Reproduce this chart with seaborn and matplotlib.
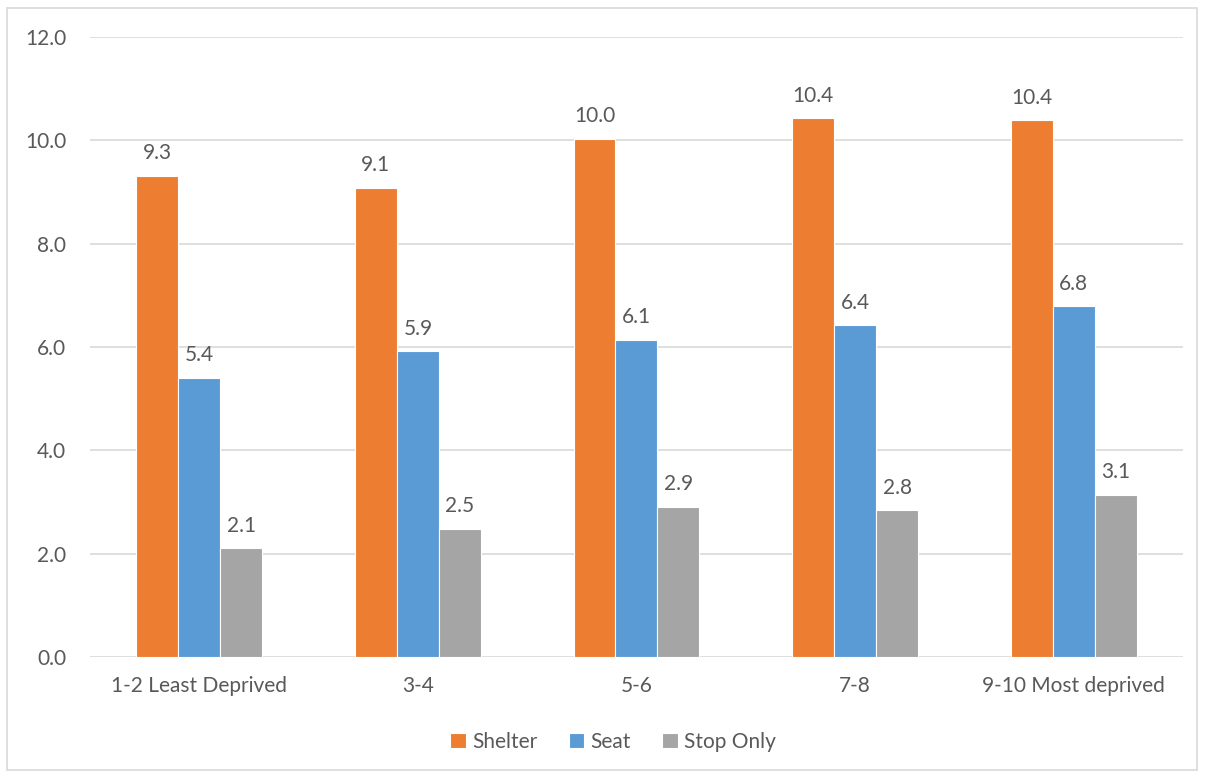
import matplotlib
matplotlib.use("Agg")
import matplotlib.pyplot as plt
from matplotlib.patches import Rectangle
import seaborn as sns
import pandas as pd

categories = ["1-2 Least Deprived", "3-4", "5-6", "7-8", "9-10 Most deprived"]
shelter = [9.31, 9.08, 10.03, 10.43, 10.39]
seat = [5.40, 5.92, 6.14, 6.42, 6.79]
stop_only = [2.10, 2.48, 2.91, 2.84, 3.14]
series_names = ["Shelter", "Seat", "Stop Only"]
colors = ["#ED7D31", "#5B9BD5", "#A5A5A5"]
yticks = [0, 2, 4, 6, 8, 10, 12]

rows = []
for name, vals in zip(series_names, [shelter, seat, stop_only]):
    for cat, v in zip(categories, vals):
        rows.append({"Band": cat, "Type": name, "Value": v})
df = pd.DataFrame(rows)

sns.set_theme(style="white")
plt.rcParams["font.family"] = ["Lato", "DejaVu Sans"]
text_color = "#595959"
fs = 15

fig = plt.figure(figsize=(12.05, 7.74), dpi=100)
ax = fig.add_axes([0.0747, 0.1512, 0.9817 - 0.0747, 0.9522 - 0.1512])

sns.barplot(data=df, x="Band", y="Value", hue="Type", order=categories,
            hue_order=series_names, palette=colors, width=0.576,
            edgecolor="white", linewidth=0.8, saturation=1, ax=ax)

for cont in ax.containers:
    ax.bar_label(cont, fmt="%.1f", padding=9, fontsize=fs, color=text_color)

ax.set_ylim(0, 12)
ax.set_yticks(yticks)
ax.set_yticklabels([f"{t:.1f}" for t in yticks])
ax.set_xlim(-0.5, len(categories) - 0.5)
ax.yaxis.grid(True, color="#D9D9D9", linewidth=1.2)
ax.set_axisbelow(True)
for s in ax.spines.values():
    s.set_visible(False)
ax.tick_params(axis="both", length=0, labelsize=fs, labelcolor=text_color)
ax.tick_params(axis="y", pad=17)
ax.tick_params(axis="x", pad=14)
ax.set_xlabel("")
ax.set_ylabel("")

ax.legend(loc="upper center", bbox_to_anchor=(0.4785, -0.09), ncol=3, frameon=False,
          fontsize=fs, labelcolor=text_color, handlelength=0.75, handleheight=0.75,
          handletextpad=0.3, columnspacing=1.5)

fig.patches.append(Rectangle((7 / 1205, 4 / 774), 1190 / 1205, 762 / 774,
                             transform=fig.transFigure, fill=False,
                             edgecolor="#D9D9D9", linewidth=1.2))

fig.savefig("out.png", dpi=100, facecolor="white")
